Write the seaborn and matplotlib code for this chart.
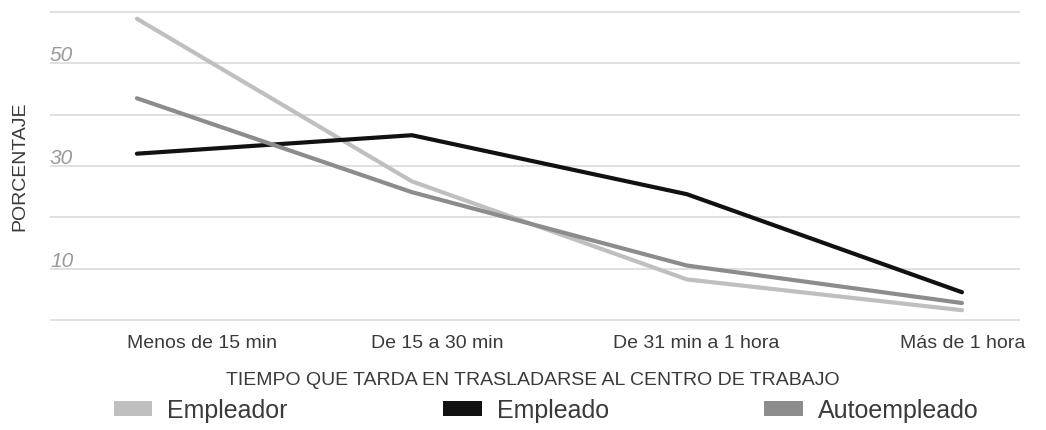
import matplotlib
matplotlib.use("Agg")
import matplotlib.pyplot as plt
import matplotlib.transforms as mtransforms
from matplotlib.patches import Patch
import seaborn as sns
import pandas as pd

# Commute time categories and share (%) per employment group
categories = ["Menos de 15 min", "De 15 a 30 min", "De 31 min a 1 hora", "Más de 1 hora"]
empleador = [58.7, 27.0, 7.9, 1.9]
empleado = [32.4, 36.0, 24.5, 5.4]
autoempleado = [43.2, 24.9, 10.6, 3.3]
series_names = ["Empleador", "Empleado", "Autoempleado"]
ytick_values = [0, 10, 20, 30, 40, 50, 60]
ytick_labelled = [10, 30, 50]

colors = {"Empleador": "#bfbfbf", "Empleado": "#111111", "Autoempleado": "#8c8c8c"}

df = pd.DataFrame({
    "tiempo": categories * 3,
    "pct": empleador + empleado + autoempleado,
    "grupo": sum([[n] * len(categories) for n in series_names], []),
})

sns.set_theme(style="white")
plt.rcParams["font.family"] = ["Liberation Sans", "DejaVu Sans"]

fig = plt.figure(figsize=(10.46, 4.30), dpi=100)
ax = fig.add_axes([50 / 1046, 1 - 322 / 430, 970 / 1046, 312 / 430])

sns.lineplot(data=df, x="tiempo", y="pct", hue="grupo", palette=colors,
             hue_order=series_names, linewidth=3.0, legend=False, ax=ax,
             sort=False)

ax.set_xlim(-0.316, 3.211)
ax.set_ylim(-0.4, 60.4)
ax.set_yticks(ytick_values)
ax.set_yticklabels([])
ax.tick_params(axis="y", length=0)
ax.grid(axis="y", color="#e0e0e0", linewidth=1.4)
ax.grid(axis="x", visible=False)
for s in ax.spines.values():
    s.set_visible(False)

# Odd gridlines carry an italic value sitting on the line
ylab_tr = mtransforms.blended_transform_factory(ax.transAxes, ax.transData)
for v in ytick_labelled:
    ax.text(0.0, v + 0.4, str(v), transform=ylab_tr, ha="left", va="baseline",
            fontsize=15, style="italic", color="#9a9a9a")

# Category labels along the bottom, nudged right of each point
ax.set_xticks(range(len(categories)))
ax.set_xticklabels(categories, fontsize=14, color="#3a3a3a")
ax.tick_params(axis="x", length=0, pad=9)
shifts_px = [65, 25, 9, 1]
for lbl, dx in zip(ax.get_xticklabels(), shifts_px):
    lbl.set_transform(lbl.get_transform() +
                      mtransforms.ScaledTranslation(dx / 100, 0, fig.dpi_scale_trans))

ax.set_xlabel("TIEMPO QUE TARDA EN TRASLADARSE AL CENTRO DE TRABAJO",
              fontsize=14, color="#3a3a3a")
ax.xaxis.set_label_coords(0.498, -0.160)
ax.set_ylabel("PORCENTAJE", fontsize=14, color="#3a3a3a")
ax.yaxis.set_label_coords(-0.0225, 0.5)

handles = [Patch(facecolor=colors[n], edgecolor="none", label=n) for n in series_names]
fig.legend(handles=handles, loc="center", bbox_to_anchor=(0.522, 0.045), ncol=3,
           frameon=False, fontsize=18, handlelength=1.55, handleheight=0.55,
           handletextpad=0.6, columnspacing=6.2, labelcolor="#3a3a3a")

fig.savefig("out.png", dpi=100, facecolor="white")
